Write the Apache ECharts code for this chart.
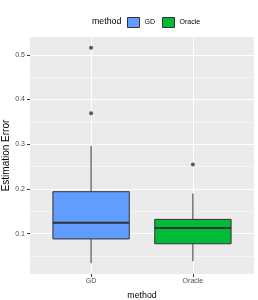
<!DOCTYPE html>
<html><head><meta charset="utf-8">
<script src="https://cdn.jsdelivr.net/npm/echarts@6/dist/echarts.min.js"></script>
<style>html,body{margin:0;padding:0;background:#fff}#c{width:258px;height:300px}</style>
</head><body><div id="c"></div>
<script>
var categories = ['GD', 'Oracle'];
var colors = ['#619CFF', '#00BA38'];
var whiskerLow = [0.0341, 0.0386];
var q1 = [0.0884, 0.0776];
var median = [0.1247, 0.1131];
var q3 = [0.194, 0.1321];
var whiskerHigh = [0.2959, 0.1898];
var outliersGD = [0.3692, 0.5157];
var outliersOracle = [0.2548];
var yTicks = [0.1, 0.2, 0.3, 0.4, 0.5];
var yMinor = [0.05, 0.15, 0.25, 0.35, 0.45];
var yMin = 0.0100, yMax = 0.5398;

var FONT = 'Liberation Sans, Arial, sans-serif';
var chart = echarts.init(document.getElementById('c'), null, {renderer: 'canvas'});

function renderBox(params, api) {
  var x = api.value(0);
  var half = 0.375;
  var pL = api.coord([x - half, api.value(2)]);
  var pR = api.coord([x + half, api.value(4)]);
  var pMed = api.coord([x - half, api.value(3)]);
  var pMedR = api.coord([x + half, api.value(3)]);
  var pLow = api.coord([x, api.value(1)]);
  var pHigh = api.coord([x, api.value(5)]);
  var pQ1 = api.coord([x, api.value(2)]);
  var pQ3 = api.coord([x, api.value(4)]);
  var color = api.visual('color');
  var lineStyle = {stroke: '#333333', lineWidth: 1};
  return {
    type: 'group',
    children: [
      {type: 'line', shape: {x1: pLow[0], y1: pLow[1], x2: pQ1[0], y2: pQ1[1]}, style: lineStyle},
      {type: 'line', shape: {x1: pQ3[0], y1: pQ3[1], x2: pHigh[0], y2: pHigh[1]}, style: lineStyle},
      {type: 'rect', shape: {x: pL[0], y: pR[1], width: pR[0] - pL[0], height: pL[1] - pR[1]},
        style: {fill: color, stroke: '#333333', lineWidth: 1}},
      {type: 'line', shape: {x1: pMed[0], y1: pMed[1], x2: pMedR[0], y2: pMedR[1]},
        style: {stroke: '#333333', lineWidth: 2}}
    ]
  };
}

var series = categories.map(function (name, i) {
  return {
    name: name,
    type: 'custom',
    xAxisIndex: 0, yAxisIndex: 0,
    itemStyle: {color: colors[i]},
    renderItem: renderBox,
    encode: {x: 0, y: [1, 2, 3, 4, 5]},
    data: [[i + 1, whiskerLow[i], q1[i], median[i], q3[i], whiskerHigh[i]]],
    z: 3
  };
});
var outlierData = outliersGD.map(function (v) { return [1, v]; })
  .concat(outliersOracle.map(function (v) { return [2, v]; }));
series.push({
  name: 'outliers', type: 'scatter', symbol: 'circle', symbolSize: 4,
  itemStyle: {color: '#333333'}, data: outlierData, z: 4, silent: true
});

chart.setOption({
  animation: false,
  textStyle: {fontFamily: FONT},
  title: {
    text: 'method', left: 87, top: 12,
    textStyle: {fontSize: 8.8, fontWeight: 'normal', color: '#000', fontFamily: FONT}
  },
  legend: {
    left: 122, top: 12, itemWidth: 12, itemHeight: 10, itemGap: 7,
    data: categories.map(function (n, i) {
      return {name: n, icon: 'rect', itemStyle: {color: colors[i], borderColor: '#333333', borderWidth: 1}};
    }),
    textStyle: {fontSize: 7, color: '#000', fontFamily: FONT}
  },
  grid: {left: 30, right: 4, top: 37, bottom: 26, show: true, backgroundColor: '#EBEBEB', borderWidth: 0,
    containLabel: false, outerBoundsMode: 'none'},
  xAxis: {
    type: 'value', min: 0.4, max: 2.6,
    axisLine: {show: false},
    axisTick: {show: true, length: 3, lineStyle: {color: '#333333'}, customValues: [1, 2]},
    axisLabel: {customValues: [1, 2], margin: 4, fontSize: 7, color: '#4D4D4D', fontFamily: FONT,
      formatter: function (v) { return categories[Math.round(v) - 1] || ''; }},
    splitLine: {show: true, lineStyle: {color: '#FFFFFF', width: 1}},
    name: 'method', nameLocation: 'middle', nameGap: 17,
    nameTextStyle: {fontSize: 8.8, color: '#000', fontFamily: FONT}
  },
  yAxis: [{
    type: 'value', min: yMin, max: yMax,
    axisLine: {show: false},
    axisTick: {show: true, length: 3, lineStyle: {color: '#333333'}, customValues: yTicks},
    axisLabel: {customValues: yTicks, margin: 5, fontSize: 7, color: '#4D4D4D', fontFamily: FONT,
      formatter: function (v) { return v.toFixed(1); }},
    splitLine: {show: true, lineStyle: {color: '#FFFFFF', width: 1}},
    name: 'Estimation Error', nameLocation: 'middle', nameGap: 19, nameMoveOverlap: false,
    nameTextStyle: {fontSize: 10, color: '#000', fontFamily: FONT}
  }, {
    type: 'value', min: yMin, max: yMax, position: 'left',
    axisLine: {show: false},
    axisTick: {show: false, customValues: yMinor},
    axisLabel: {show: false, customValues: yMinor},
    splitLine: {show: true, lineStyle: {color: '#FFFFFF', width: 0.5}}
  }],
  series: series
});
</script></body></html>
